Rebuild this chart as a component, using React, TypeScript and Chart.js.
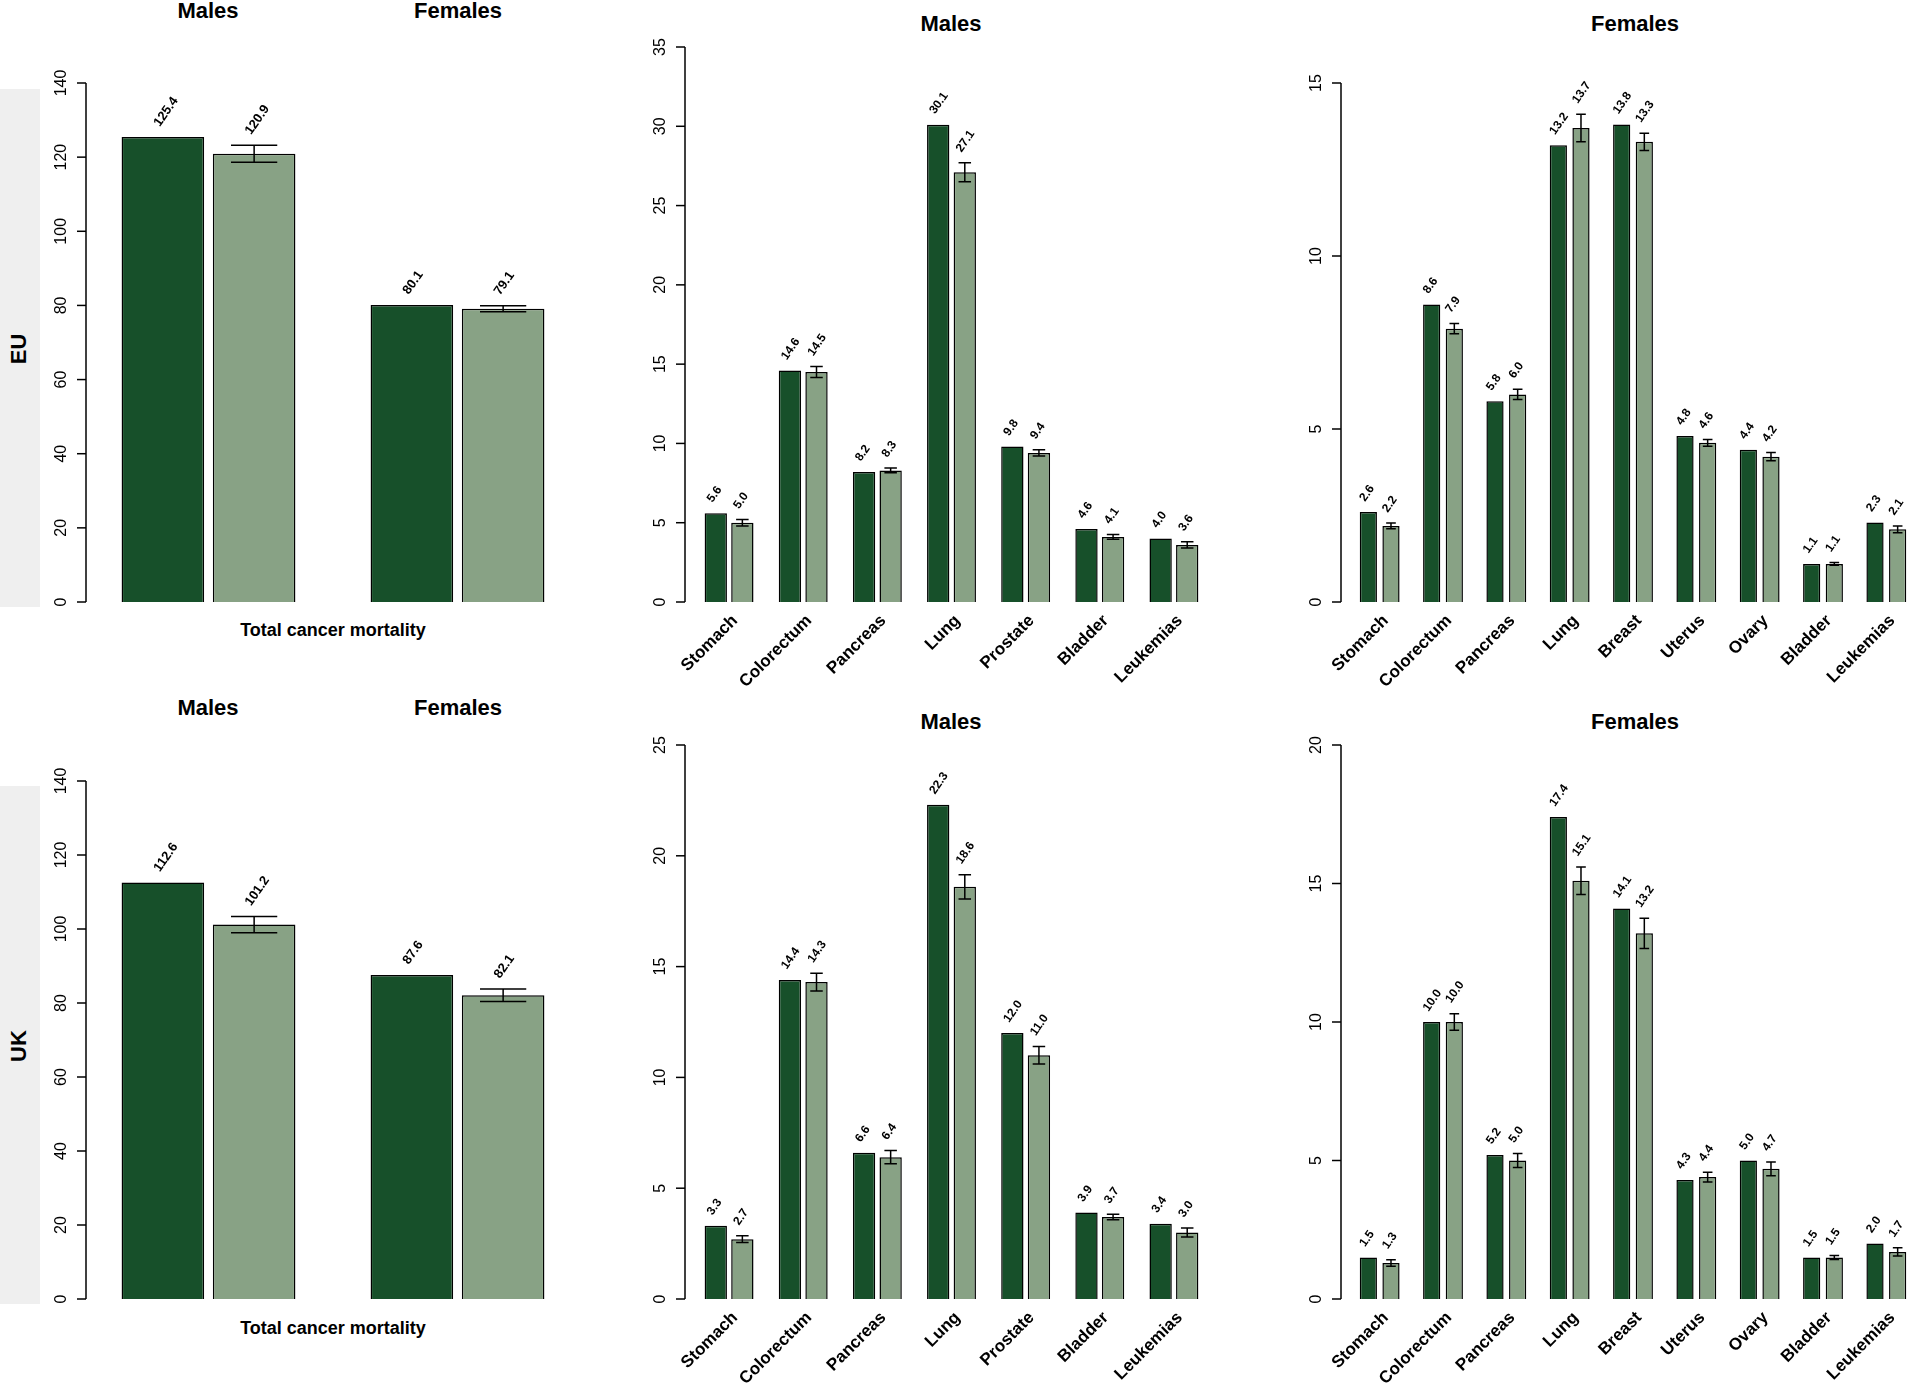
import React, { useEffect, useRef } from "react";
import { Chart, registerables } from "chart.js";
Chart.register(...registerables);

const DARK = "#17502a";
const LIGHT = "#88a285";

const totalCats = ["Males", "Females"];
const euTotalObs = [125.4, 80.1];
const euTotalPred = [120.9, 79.1];
const euTotalErr = [2.3, 0.8];
const ukTotalObs = [112.6, 87.6];
const ukTotalPred = [101.2, 82.1];
const ukTotalErr = [2.2, 1.7];

const maleCats = ["Stomach", "Colorectum", "Pancreas", "Lung", "Prostate", "Bladder", "Leukemias"];
const femaleCats = ["Stomach", "Colorectum", "Pancreas", "Lung", "Breast", "Uterus", "Ovary", "Bladder", "Leukemias"];

const euMaleObs = [5.6, 14.6, 8.2, 30.1, 9.8, 4.6, 4.0];
const euMalePred = [5.0, 14.5, 8.3, 27.1, 9.4, 4.1, 3.6];
const euMaleErr = [0.2, 0.35, 0.15, 0.6, 0.2, 0.15, 0.2];

const euFemObs = [2.6, 8.6, 5.8, 13.2, 13.8, 4.8, 4.4, 1.1, 2.3];
const euFemPred = [2.2, 7.9, 6.0, 13.7, 13.3, 4.6, 4.2, 1.1, 2.1];
const euFemErr = [0.08, 0.15, 0.15, 0.4, 0.25, 0.1, 0.12, 0.04, 0.1];

const ukMaleObs = [3.3, 14.4, 6.6, 22.3, 12.0, 3.9, 3.4];
const ukMalePred = [2.7, 14.3, 6.4, 18.6, 11.0, 3.7, 3.0];
const ukMaleErr = [0.15, 0.4, 0.3, 0.55, 0.4, 0.12, 0.2];

const ukFemObs = [1.5, 10.0, 5.2, 17.4, 14.1, 4.3, 5.0, 1.5, 2.0];
const ukFemPred = [1.3, 10.0, 5.0, 15.1, 13.2, 4.4, 4.7, 1.5, 1.7];
const ukFemErr = [0.12, 0.3, 0.25, 0.5, 0.55, 0.18, 0.25, 0.07, 0.15];

const W = 1920, H = 1385;

type Panel = {
  cats: string[]; obs: number[]; pred: number[]; err: number[];
  max: number; step: number; left: number; right: number; top: number; bottom: number;
  axisX: number; catPct: number; barPct: number; catLabels: boolean; valFont: number;
};

const panels: Panel[] = [
  { cats: totalCats, obs: euTotalObs, pred: euTotalPred, err: euTotalErr, max: 140, step: 20, left: 84, right: 582, top: 83, bottom: 602, axisX: 86, catPct: 0.733, barPct: 0.905, catLabels: false, valFont: 13 },
  { cats: maleCats, obs: euMaleObs, pred: euMalePred, err: euMaleErr, max: 35, step: 5, left: 692, right: 1211, top: 47, bottom: 602, axisX: 685, catPct: 0.717, barPct: 0.84, catLabels: true, valFont: 12 },
  { cats: femaleCats, obs: euFemObs, pred: euFemPred, err: euFemErr, max: 15, step: 5, left: 1348, right: 1918, top: 83, bottom: 602, axisX: 1341, catPct: 0.715, barPct: 0.76, catLabels: true, valFont: 12 },
  { cats: totalCats, obs: ukTotalObs, pred: ukTotalPred, err: ukTotalErr, max: 140, step: 20, left: 84, right: 582, top: 781, bottom: 1299, axisX: 86, catPct: 0.733, barPct: 0.905, catLabels: false, valFont: 13 },
  { cats: maleCats, obs: ukMaleObs, pred: ukMalePred, err: ukMaleErr, max: 25, step: 5, left: 692, right: 1211, top: 745, bottom: 1299, axisX: 685, catPct: 0.717, barPct: 0.84, catLabels: true, valFont: 12 },
  { cats: femaleCats, obs: ukFemObs, pred: ukFemPred, err: ukFemErr, max: 20, step: 5, left: 1348, right: 1918, top: 745, bottom: 1299, axisX: 1341, catPct: 0.715, barPct: 0.76, catLabels: true, valFont: 12 },
];

const FONT = "Liberation Sans, Arial, sans-serif";

function makeDecor(p: Panel) {
  return {
    id: "decor",
    afterDatasetsDraw(chart: any) {
      const ctx = chart.ctx;
      const ys = chart.scales.y;
      const xs = chart.scales.x;
      ctx.save();
      ctx.strokeStyle = "#000";
      ctx.fillStyle = "#000";
      ctx.lineWidth = 1.5;
      // y axis
      const y0 = ys.getPixelForValue(0), y1 = ys.getPixelForValue(p.max);
      ctx.beginPath();
      ctx.moveTo(p.axisX, y0); ctx.lineTo(p.axisX, y1); ctx.stroke();
      ctx.font = `16px ${FONT}`;
      ctx.textAlign = "center";
      ctx.textBaseline = "middle";
      for (let v = 0; v <= p.max + 1e-9; v += p.step) {
        const y = ys.getPixelForValue(v);
        ctx.beginPath(); ctx.moveTo(p.axisX, y); ctx.lineTo(p.axisX - 9, y); ctx.stroke();
        ctx.save();
        ctx.translate(p.axisX - 24, y);
        ctx.rotate(-Math.PI / 2);
        ctx.fillText(String(v), 0, 0);
        ctx.restore();
      }
      // error bars + value labels
      [0, 1].forEach((di) => {
        const meta = chart.getDatasetMeta(di);
        meta.data.forEach((bar: any, i: number) => {
          const val = di === 0 ? p.obs[i] : p.pred[i];
          let topPx = bar.y;
          if (di === 1) {
            const e = p.err[i];
            const yt = ys.getPixelForValue(val + e), yb = ys.getPixelForValue(val - e);
            const cw = bar.width * 0.28;
            ctx.lineWidth = 1.5;
            ctx.beginPath();
            ctx.moveTo(bar.x, yt); ctx.lineTo(bar.x, yb);
            ctx.moveTo(bar.x - cw, yt); ctx.lineTo(bar.x + cw, yt);
            ctx.moveTo(bar.x - cw, yb); ctx.lineTo(bar.x + cw, yb);
            ctx.stroke();
            topPx = Math.min(topPx, yt);
          }
          ctx.save();
          ctx.font = `bold ${p.valFont}px ${FONT}`;
          ctx.textAlign = "left";
          ctx.textBaseline = "middle";
          ctx.translate(bar.x - 6, topPx - 12);
          ctx.rotate(-55 * Math.PI / 180);
          ctx.fillText(val.toFixed(1), 0, 0);
          ctx.restore();
        });
      });
      // category labels
      if (p.catLabels) {
        ctx.font = `bold 17px ${FONT}`;
        ctx.textAlign = "right";
        ctx.textBaseline = "middle";
        p.cats.forEach((c, i) => {
          const x = xs.getPixelForValue(i);
          ctx.save();
          ctx.translate(x + 6, p.bottom + 16);
          ctx.rotate(-Math.PI / 4);
          ctx.fillText(c, 0, 0);
          ctx.restore();
        });
      }
      ctx.restore();
    },
  };
}

function PanelChart({ p }: { p: Panel }) {
  const ref = useRef<HTMLCanvasElement>(null);
  useEffect(() => {
    const chart = new Chart(ref.current!, {
      type: "bar",
      data: {
        labels: p.cats,
        datasets: [
          { data: p.obs, backgroundColor: DARK, borderColor: "#000", borderWidth: 1.5, categoryPercentage: p.catPct, barPercentage: p.barPct },
          { data: p.pred, backgroundColor: LIGHT, borderColor: "#000", borderWidth: 1.5, categoryPercentage: p.catPct, barPercentage: p.barPct },
        ],
      },
      options: {
        responsive: false,
        animation: false,
        events: [],
        layout: { padding: { left: p.left, right: W - p.right, top: p.top, bottom: H - p.bottom } },
        plugins: { legend: { display: false }, tooltip: { enabled: false } },
        scales: {
          x: { display: false, offset: true },
          y: { display: false, min: 0, max: p.max },
        },
      },
      plugins: [makeDecor(p)],
    });
    return () => chart.destroy();
  }, [p]);
  return <canvas ref={ref} width={W} height={H} style={{ position: "absolute", left: 0, top: 0, width: W, height: H, pointerEvents: "none" }} />;
}

const txt = (s: string, x: number, y: number, size: number, extra: any = {}) => (
  <div style={{ position: "absolute", left: x, top: y, transform: "translate(-50%,-50%)", fontFamily: FONT, fontWeight: "bold", fontSize: size, whiteSpace: "nowrap", ...extra }}>{s}</div>
);

export default function App() {
  return (
    <div style={{ position: "absolute", left: 0, top: 0, width: W, height: H, background: "#fff", overflow: "hidden" }}>
      <div style={{ position: "absolute", left: 0, top: 89, width: 40, height: 518, background: "#efefef" }} />
      <div style={{ position: "absolute", left: 0, top: 786, width: 40, height: 518, background: "#efefef" }} />
      {txt("EU", 19, 349, 22, { transform: "translate(-50%,-50%) rotate(-90deg)" })}
      {txt("UK", 19, 1046, 22, { transform: "translate(-50%,-50%) rotate(-90deg)" })}
      {txt("Males", 208, 11, 22)}
      {txt("Females", 458, 11, 22)}
      {txt("Total cancer mortality", 333, 630, 18)}
      {txt("Males", 951, 24, 22)}
      {txt("Females", 1635, 24, 22)}
      {txt("Males", 208, 708, 22)}
      {txt("Females", 458, 708, 22)}
      {txt("Total cancer mortality", 333, 1328, 18)}
      {txt("Males", 951, 722, 22)}
      {txt("Females", 1635, 722, 22)}
      {panels.map((p, i) => <PanelChart key={i} p={p} />)}
    </div>
  );
}
